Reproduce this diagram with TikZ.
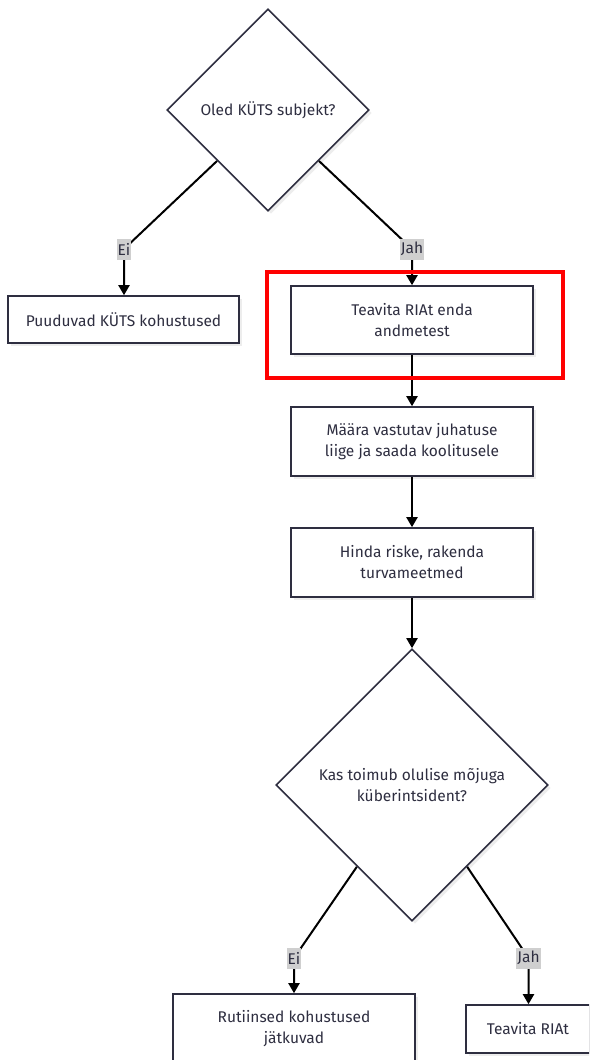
\documentclass[tikz,border=0pt]{standalone}
\usepackage{fontspec}
\setmainfont{Fira Sans}
\usetikzlibrary{shapes.geometric, arrows.meta, shadows, backgrounds}
\definecolor{ink}{HTML}{2E2E40}
\definecolor{labelgray}{HTML}{CFCFCF}
\tikzset{
    txt/.style={font=\fontsize{15.5pt}{21pt}\selectfont, text=ink, align=center},
    box/.style={txt, draw=ink, line width=1.6pt, fill=white, inner sep=0pt,
      minimum width=242pt, minimum height=69pt,
      drop shadow={shadow xshift=3pt, shadow yshift=-3pt, fill=black, opacity=0.07}},
    decision/.style={txt, shape=diamond, aspect=1, draw=ink, line width=1.6pt, fill=white,
      inner sep=0pt, minimum width=#1, minimum height=#1,
      drop shadow={shadow xshift=3pt, shadow yshift=-3pt, fill=black, opacity=0.07}},
    elabel/.style={txt, fill=labelgray, inner xsep=1pt, inner ysep=0pt, minimum height=21pt},
    edge/.style={line width=2pt, -{Triangle[length=10pt, width=11pt]}}
}
\begin{document}
\begin{tikzpicture}[x=1pt, y=-1pt]
  \clip (0,0) rectangle (589,1060);
  % first question
  \node [decision=202pt] (kuts) at (268,110) {Oled KÜTS subjekt?};
  \node [box, minimum width=231pt, minimum height=47pt] (puudu) at (123.5,319.5) {Puuduvad KÜTS kohustused};
  \node [box, minimum height=68pt] (andmed) at (412,320) {Teavita RIAt enda\\andmetest};
  \node [box] (maara) at (412,441.5) {Määra vastutav juhatuse\\liige ja saada koolitusele};
  \node [box] (hinda) at (412,562.5) {Hinda riske, rakenda\\turvameetmed};
  % second question
  \node [decision=272pt] (intsident) at (412,785) {Kas toimub olulise mõjuga\\küberintsident?};
  \node [box] (rutiin) at (294,1028.5) {Rutiinsed kohustused\\jätkuvad};
  \node [box, minimum width=124pt, minimum height=48pt] (teavita) at (528,1029) {Teavita RIAt};
  % edge labels
  \node [elabel] (ei1) at (124,249) {Ei};
  \node [elabel] (jah1) at (412,249) {Jah};
  \node [elabel] (ei2) at (294,958) {Ei};
  \node [elabel] (jah2) at (528.5,958) {Jah};
  \begin{scope}[on background layer]
    \draw [edge] (kuts.south west) -- (ei1.center) -- (ei1.center |- puudu.north);
    \draw [edge] (kuts.south east) -- (jah1.center) -- (jah1.center |- andmed.north);
    \draw [edge] (andmed) -- (maara);
    \draw [edge] (maara) -- (hinda);
    \draw [edge] (hinda) -- (intsident);
    \draw [edge] (intsident.236) -- (ei2.center) -- (ei2.center |- rutiin.north);
    \draw [edge] (intsident.304) -- (jah2.center) -- (jah2.center |- teavita.north);
  \end{scope}
  % highlight
  \draw [red, line width=3.5pt] (267,272) rectangle (563,378);
\end{tikzpicture}
\end{document}
